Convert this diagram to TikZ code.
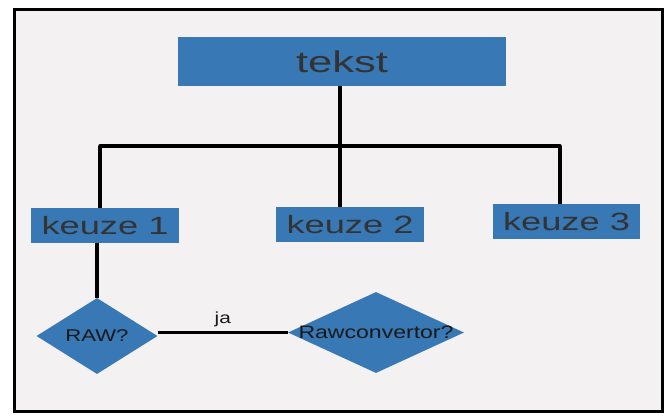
\documentclass[tikz,border=0pt]{standalone}
\usepackage{fontspec}
\setmainfont{Liberation Sans}
\usetikzlibrary{shapes.geometric}
\definecolor{boxblue}{HTML}{3878B4}
\definecolor{paper}{HTML}{F3F1F1}
\definecolor{boxtext}{HTML}{333333}
\tikzset{
  box/.style={rectangle, fill=boxblue, inner sep=0pt, text=boxtext},
  decision/.style={diamond, fill=boxblue, inner sep=0pt, minimum width=#1},
  conn/.style={line width=3.5pt, black},
}
\newcommand{\wide}[1]{\scalebox{1.45}[1]{#1}}
\begin{document}
\begin{tikzpicture}[x=1pt,y=-1pt]
\useasboundingbox (0,0) rectangle (666,416);
\fill[white] (0,0) rectangle (666,416);
\draw[line width=3pt, fill=paper] (14,9) rectangle (662,411);

\node[box, minimum width=328pt, minimum height=49pt, font=\fontsize{30}{32}\selectfont] (tekst) at (342,61.5) {\wide{tekst}};
\node[box, minimum width=148pt, minimum height=35pt, font=\fontsize{25}{27}\selectfont] (k1) at (105,225.5) {\wide{keuze 1}};
\node[box, minimum width=148pt, minimum height=35pt, font=\fontsize{25}{27}\selectfont] (k2) at (350,224.5) {\wide{keuze 2}};
\node[box, minimum width=147pt, minimum height=35pt, font=\fontsize{25}{27}\selectfont] (k3) at (566.5,221.5) {\wide{keuze 3}};

\node[decision=121pt, minimum height=76pt,
  label={[font=\fontsize{17}{19}\selectfont, text=black!90]center:\scalebox{1.3}[1]{RAW?}}] (raw) at (97,336) {};
\node[decision=176pt, minimum height=81pt,
  label={[font=\fontsize{18}{20}\selectfont, text=black!90]center:\scalebox{1.28}[1]{Rawconvertor?}}] (rc) at (376,332.5) {};

\coordinate (j) at (340,146);
\coordinate (h1) at (100,146);
\coordinate (h3) at (560,146);

\draw[conn] (tekst.south -| j) -- (j);
\draw[conn, line cap=round] (h1) -- (h3);
\draw[conn] (h1) -- (h1 |- k1.north);
\draw[conn] (j) -- (j |- k2.north);
\draw[conn] (h3) -- (h3 |- k3.north);
\draw[conn] (raw.north |- k1.south) -- (raw.north);
\draw[line width=3pt] (rc.west -| raw.east) -- node[above=1pt, font=\fontsize{16}{18}\selectfont, text=black!90] {\scalebox{1.3}[1]{ja}} (rc.west);
\end{tikzpicture}
\end{document}
